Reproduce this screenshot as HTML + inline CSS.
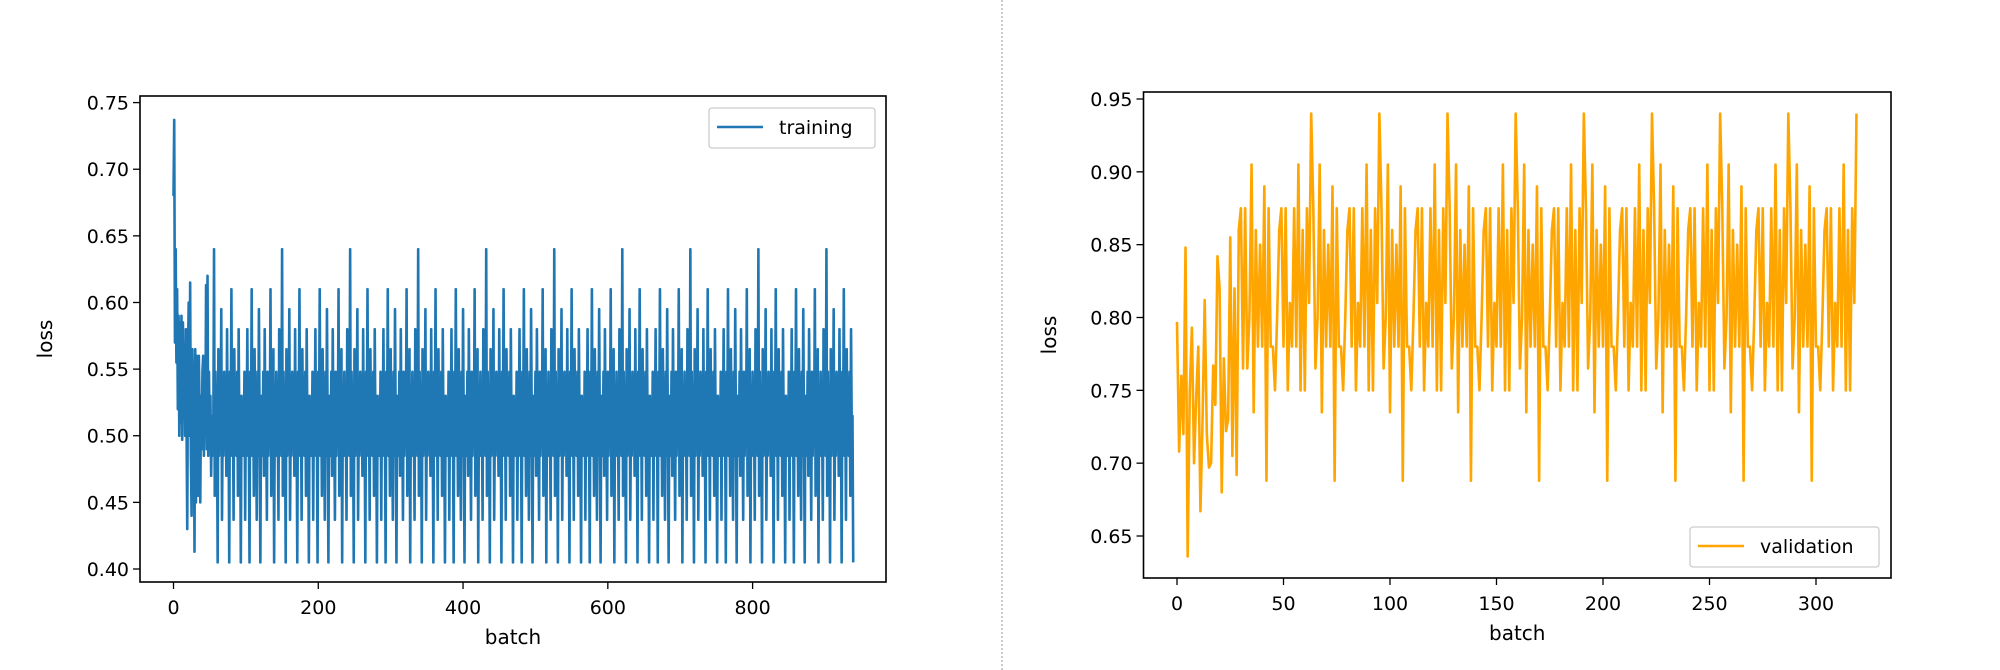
<!DOCTYPE html>
<html><head><meta charset="utf-8"><style>
html,body{margin:0;padding:0;background:#fff;}
svg{display:block;font-family:"DejaVu Sans","Liberation Sans",sans-serif;}
</style></head><body>
<svg id="chart" width="2000" height="670" viewBox="0 0 2000 670">
<line x1="1002" y1="0" x2="1002" y2="670" stroke="#ccc" stroke-width="2" stroke-dasharray="2,2"/>
<g id="left"></g>
<g id="right"></g>
</svg>
<script>
const trainStart = [0.68,0.737,0.57,0.64,0.555,0.61,0.52,0.59,0.50,0.585,0.51,0.59,0.497,0.585,0.52,0.56,0.50,0.58,0.51,0.43,0.56,0.60,0.50,0.615,0.485,0.44,0.565,0.53,0.55,0.413,0.565,0.45,0.56,0.50,0.455,0.56,0.52,0.45,0.53,0.49,0.548,0.56,0.485,0.53,0.50,0.613,0.49,0.62,0.485,0.548,0.50,0.53,0.47,0.515,0.485,0.50];
const trainPeriod = [0.515,0.485,0.548,0.437,0.53,0.50,0.58,0.485,0.515,0.405,0.548,0.50,0.61,0.485,0.53,0.455,0.565,0.50,0.515,0.437,0.548,0.485,0.595,0.50,0.405,0.53,0.515,0.485,0.548,0.47,
0.58,0.50,0.515,0.437,0.548,0.485,0.53,0.50,0.61,0.455,0.515,0.485,0.565,0.405,0.53,0.50,0.548,0.485,0.515,0.437,
0.58,0.50,0.53,0.485,0.64,0.455,0.548,0.50,0.515,0.405,0.565,0.485,0.53,0.50,0.595,0.437,0.515,0.485,0.548,0.50,
0.53,0.47,0.58,0.485,0.515,0.405,0.548,0.50,0.61,0.485,0.53,0.437,0.565,0.50,0.515,0.485,0.548,0.455,0.58,0.50,
0.515,0.405,0.53,0.485];
const valStart = [0.797,0.708,0.76,0.72,0.848,0.636,0.75,0.793,0.70,0.745,0.78,0.667,0.73,0.812,0.72,0.697,0.70,0.767,0.74,0.842,0.82,0.68,0.772,0.722,0.73,0.855,0.705,0.82,0.692,0.86,0.875,0.765];
const valPeriod = [0.875,0.765,0.80,0.905,0.735,0.86,0.78,0.85,0.78,0.89,0.688,0.875,0.78,0.78,0.75,0.80,0.86,0.875,0.78,0.875,0.75,0.81,0.78,0.875,0.78,0.905,0.75,0.86,0.75,0.875,0.81,0.94];
let training = trainStart.concat(trainPeriod.slice(54));
while (training.length < 940) training = training.concat(trainPeriod);
training = training.slice(0, 940);
let validation = valStart.slice();
while (validation.length < 320) validation = validation.concat(valPeriod);
validation = validation.slice(0, 320);
const trainXTicks = [0,200,400,600,800];
const trainYTicks = [0.40,0.45,0.50,0.55,0.60,0.65,0.70,0.75];
const valXTicks = [0,50,100,150,200,250,300];
const valYTicks = [0.65,0.70,0.75,0.80,0.85,0.90,0.95];

const NS='http://www.w3.org/2000/svg';
function mk(parent,tag,attrs,text){const e=document.createElementNS(NS,tag);for(const k in attrs)e.setAttribute(k,attrs[k]);if(text!==undefined)e.textContent=text;parent.appendChild(e);return e;}

function drawPanel(g,cfg){
  const sx=v=>cfg.x0+(v-cfg.xv0)*(cfg.x1-cfg.x0)/(cfg.xv1-cfg.xv0);
  const sy=v=>cfg.y0+(v-cfg.yv0)*(cfg.y1-cfg.y0)/(cfg.yv1-cfg.yv0);
  let d='';
  cfg.data.forEach((v,i)=>{d+=(i?'L':'M')+sx(i).toFixed(2)+','+sy(v).toFixed(2);});
  const p=mk(g,'path',{d:d,fill:'none',stroke:cfg.color,'stroke-width':2.6,'stroke-linejoin':'round'});
  
  
  const box=mk(g,'rect',{x:cfg.bx0,y:cfg.by0,width:cfg.bx1-cfg.bx0,height:cfg.by1-cfg.by0,fill:'none',stroke:'#000','stroke-width':1.6});
  
  
  cfg.xt.forEach(t=>{
    const x=sx(t);
    const l=mk(g,'line',{x1:x,y1:cfg.by1,x2:x,y2:cfg.by1+7,stroke:'#000','stroke-width':1.3});
    
    
    const tx=mk(g,'text',{x:x,y:cfg.by1+32,'text-anchor':'middle','font-size':19},String(t));
    
    
  });
  cfg.yt.forEach(t=>{
    const y=sy(t);
    const l=mk(g,'line',{x1:cfg.bx0-7,y1:y,x2:cfg.bx0,y2:y,stroke:'#000','stroke-width':1.3});
    
    
    const tx=mk(g,'text',{x:cfg.bx0-11,y:y+7,'text-anchor':'end','font-size':19},t.toFixed(2));
    
    
  });
  const xl=mk(g,'text',{x:(cfg.bx0+cfg.bx1)/2,y:cfg.by1+62,'text-anchor':'middle','font-size':20},'batch');
  
  
  const yl=mk(g,'text',{x:cfg.ylx,y:(cfg.by0+cfg.by1)/2,'text-anchor':'middle','font-size':20,transform:'rotate(-90 '+cfg.ylx+' '+((cfg.by0+cfg.by1)/2)+')'},'loss');
  
  
  const L=cfg.leg;
  const lg=mk(g,'g',{});
  
  
  mk(lg,'rect',{x:L.x,y:L.y,width:L.w,height:40,rx:3,fill:'#fff','fill-opacity':0.8,stroke:'#ccc','stroke-width':1.3});
  mk(lg,'line',{x1:L.x+8,y1:L.y+19,x2:L.x+54,y2:L.y+19,stroke:cfg.color,'stroke-width':2.6});
  mk(lg,'text',{x:L.x+70,y:L.y+26,'font-size':19},cfg.label);
}

drawPanel(document.getElementById('left'),{data:training,color:'#1f77b4',name:'training',label:'training',
  x0:173.5,x1:752.6,xv0:0,xv1:800,y0:569,y1:102.6,yv0:0.40,yv1:0.75,
  bx0:140,bx1:886,by0:96,by1:582,xt:trainXTicks,yt:trainYTicks,ylx:52,leg:{x:709,y:108,w:166}});
drawPanel(document.getElementById('right'),{data:validation,color:'#ffa500',name:'validation',label:'validation',
  x0:1177,x1:1816,xv0:0,xv1:300,y0:536,y1:99,yv0:0.65,yv1:0.95,
  bx0:1143.5,bx1:1891,by0:92,by1:578,xt:valXTicks,yt:valYTicks,ylx:1056,leg:{x:1690,y:527,w:189}});
</script>
</body></html>
